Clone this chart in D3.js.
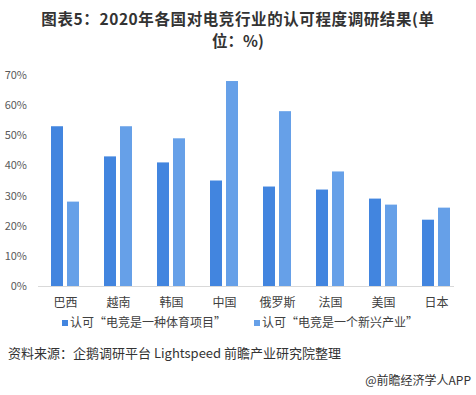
<!DOCTYPE html>
<html>
<head>
<meta charset="utf-8">
<script src="https://cdn.jsdelivr.net/npm/d3@7"></script>
<style>
  body { margin: 0; background: #fff; }
  svg { display: block; font-family: "Noto Sans CJK SC", "Microsoft YaHei", sans-serif; }
</style>
</head>
<body>
<div id="chart"></div>
<script>
const countries = ["巴西", "越南", "韩国", "中国", "俄罗斯", "法国", "美国", "日本"];
const sportValues = [53, 43, 41, 35, 33, 32, 29, 22];
const industryValues = [28, 53, 49, 68, 58, 38, 27, 26];
const seriesNames = ["认可“电竞是一种体育项目”", "认可“电竞是一个新兴产业”"];
const yTicks = [0, 10, 20, 30, 40, 50, 60, 70];

const width = 476, height = 395;
const colors = ["#4285df", "#66a0e8"];

const svg = d3.select("#chart").append("svg")
    .attr("width", width)
    .attr("height", height);

// title, two lines
svg.append("text")
    .attr("x", 238).attr("y", 25)
    .attr("text-anchor", "middle")
    .attr("font-weight", "bold")
    .attr("font-size", 15.5)
    .attr("letter-spacing", 0.6)
    .attr("fill", "#333")
    .text("图表5：2020年各国对电竞行业的认可程度调研结果(单");
svg.append("text")
    .attr("x", 238).attr("y", 47)
    .attr("text-anchor", "middle")
    .attr("font-weight", "bold")
    .attr("font-size", 15.5)
    .attr("fill", "#333")
    .text("位：%)");

const x = d3.scaleBand()
    .domain(countries)
    .range([39, 463]);

const y = d3.scaleLinear()
    .domain([0, 70])
    .range([286, 75]);

// y labels
svg.append("g")
    .selectAll("text")
    .data(yTicks)
    .enter()
    .append("text")
    .attr("x", 27)
    .attr("y", d => y(d) + 4)
    .attr("text-anchor", "end")
    .attr("font-size", 11)
    .attr("fill", "#595959")
    .text(d => d + "%");

// baseline
svg.append("line")
    .attr("x1", 38).attr("x2", 454)
    .attr("y1", y(0) + 0.5).attr("y2", y(0) + 0.5)
    .attr("stroke", "#d9d9d9");

const barW = 12, gap = 3;
const groups = svg.append("g")
    .selectAll("g")
    .data(countries)
    .enter()
    .append("g")
    .attr("transform", d => "translate(" + (x(d) + x.bandwidth() / 2) + ",0)");

groups.append("rect")
    .attr("x", -barW - gap / 2 - 1)
    .attr("width", barW)
    .attr("y", (d, i) => y(sportValues[i]))
    .attr("height", (d, i) => y(0) - y(sportValues[i]))
    .attr("fill", colors[0]);

groups.append("rect")
    .attr("x", gap / 2)
    .attr("width", barW)
    .attr("y", (d, i) => y(industryValues[i]))
    .attr("height", (d, i) => y(0) - y(industryValues[i]))
    .attr("fill", colors[1]);

groups.append("text")
    .attr("y", 307)
    .attr("text-anchor", "middle")
    .attr("font-size", 12)
    .attr("fill", "#404040")
    .text(d => d);

// legend
const legendX = [62, 254];
const legend = svg.append("g")
    .selectAll("g")
    .data(seriesNames)
    .enter()
    .append("g")
    .attr("transform", (d, i) => "translate(" + legendX[i] + ",327)");
legend.append("rect")
    .attr("x", 0).attr("y", -7)
    .attr("width", 6).attr("height", 6)
    .attr("fill", (d, i) => colors[i]);
legend.append("text")
    .attr("x", 8)
    .attr("y", 0)
    .attr("font-size", 12)
    .attr("fill", "#404040")
    .text(d => d);

// source
svg.append("text")
    .attr("x", 8).attr("y", 358)
    .attr("font-size", 13)
    .attr("fill", "#333")
    .text("资料来源：企鹅调研平台 Lightspeed 前瞻产业研究院整理");

svg.append("text")
    .attr("x", 471).attr("y", 385)
    .attr("text-anchor", "end")
    .attr("font-size", 12)
    .attr("fill", "#333")
    .text("@前瞻经济学人APP");
</script>
</body>
</html>
